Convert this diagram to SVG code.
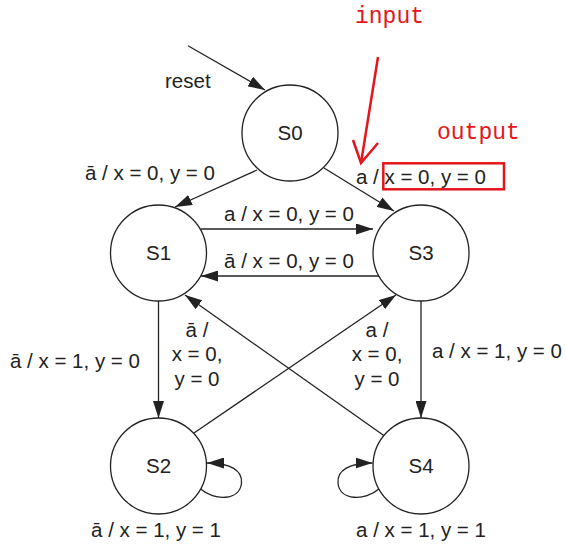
<svg xmlns="http://www.w3.org/2000/svg" width="566" height="549" viewBox="0 0 566 549">
<style>
.node{fill:#fff;stroke:#222;stroke-width:1.3}
.lbl{font-family:"Liberation Sans",Arial,sans-serif;font-size:20.5px;fill:#222}
.st{font-family:"Liberation Sans",Arial,sans-serif;font-size:20.5px;fill:#222;text-anchor:middle}
.mid{text-anchor:middle}
.edge{fill:none;stroke:#222;stroke-width:1.3}
.red{font-family:"Liberation Mono","Courier New",monospace;font-size:23px;fill:#e3161c}
.redline{fill:none;stroke:#e3161c;stroke-width:2.5}
</style>
<defs>
<marker id="arr" markerUnits="userSpaceOnUse" markerWidth="17" markerHeight="11" refX="17" refY="5.5" orient="auto">
<path d="M0,0 L17,5.5 L0,11 z" fill="#222"/>
</marker>
</defs>
<rect width="566" height="549" fill="#fff"/>
<g id="connectors">
<path class="edge" d="M188,45.7 L265,90" marker-end="url(#arr)"/>
<path class="edge" d="M257,170 L175,207" marker-end="url(#arr)"/>
<path class="edge" d="M324,168 L394,211" marker-end="url(#arr)"/>
<path class="edge" d="M200.7,229 L373,229" marker-end="url(#arr)"/>
<path class="edge" d="M380,276 L201,276" marker-end="url(#arr)"/>
<path class="edge" d="M158.5,301 L158.5,418" marker-end="url(#arr)"/>
<path class="edge" d="M421,301 L421,418" marker-end="url(#arr)"/>
<path class="edge" d="M194,433 L396,295" marker-end="url(#arr)"/>
<path class="edge" d="M384.5,436 L185,295" marker-end="url(#arr)"/>
<path class="edge" d="M200.7,489 C214,501 240,501 241.5,483 C242.5,470 230,463 207,463" marker-end="url(#arr)"/>
<path class="edge" d="M378.8,489 C365.5,501 339.5,501 338,483 C337,470 349.5,463 372.5,463" marker-end="url(#arr)"/>
</g>
<g id="S0"><circle class="node" cx="290" cy="133" r="48"/><text class="st" x="290" y="140">S0</text></g>
<g id="S1"><circle class="node" cx="158.5" cy="253" r="48"/><text class="st" x="158.5" y="260">S1</text></g>
<g id="S3"><circle class="node" cx="421" cy="253" r="48"/><text class="st" x="421" y="260">S3</text></g>
<g id="S2"><circle class="node" cx="158.5" cy="466" r="48"/><text class="st" x="158.5" y="473">S2</text></g>
<g id="S4"><circle class="node" cx="421" cy="466" r="48"/><text class="st" x="421" y="473">S4</text></g>
<g id="labels">
<text class="lbl" x="165" y="88">reset</text>
<text class="lbl" x="85" y="180">ā / x = 0, y = 0</text>
<text class="lbl" x="356" y="184">a / x = 0, y = 0</text>
<text class="lbl mid" x="289" y="221">a / x = 0, y = 0</text>
<text class="lbl mid" x="289" y="268">ā / x = 0, y = 0</text>
<text class="lbl" x="10" y="368">ā / x = 1, y = 0</text>
<text class="lbl" x="432" y="358">a / x = 1, y = 0</text>
<text class="lbl mid" x="197" y="337">ā /</text>
<text class="lbl mid" x="197" y="361">x = 0,</text>
<text class="lbl mid" x="197" y="386">y = 0</text>
<text class="lbl mid" x="377" y="337">a /</text>
<text class="lbl mid" x="377" y="361">x = 0,</text>
<text class="lbl mid" x="377" y="386">y = 0</text>
<text class="lbl mid" x="156" y="537">ā / x = 1, y = 1</text>
<text class="lbl mid" x="421" y="537">a / x = 1, y = 1</text>
</g>
<g id="annotations">
<text class="red" x="355" y="23">input</text>
<text class="red" x="437" y="139">output</text>
<path class="redline" d="M378,57 L361,163"/>
<path class="redline" d="M353,140 L361,163 L378,143"/>
<rect class="redline" x="383.3" y="163.3" width="120.7" height="26" stroke-width="2.2"/>
</g>
</svg>
